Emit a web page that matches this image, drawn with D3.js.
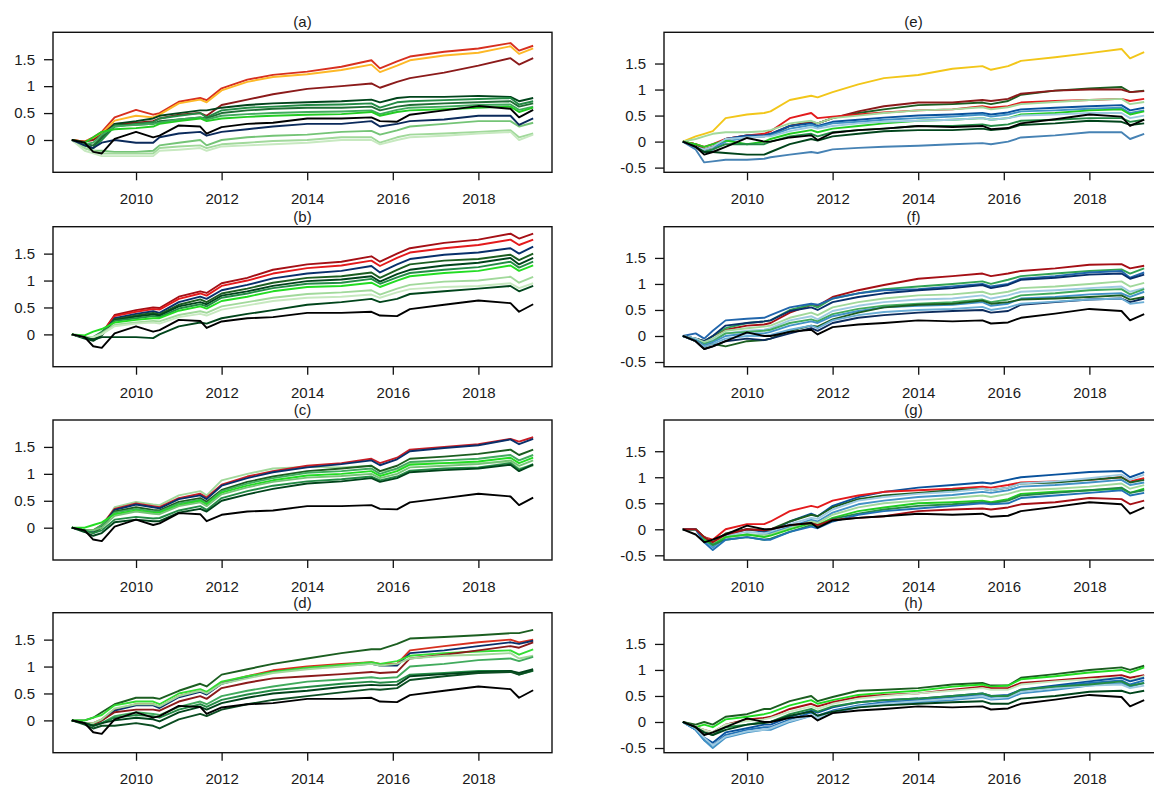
<!DOCTYPE html>
<html>
<head>
<meta charset="utf-8">
<script src="https://cdn.jsdelivr.net/npm/d3@7/dist/d3.min.js"></script>
<style>
  body { margin: 0; background: #fff; }
  svg { display: block; font-family: "Liberation Sans", Arial, sans-serif; }
</style>
</head>
<body>
<div id="vis-container"></div>
<script>
// time grid (decimal years) shared by every series
const years = [2008.5, 2008.8, 2009.0, 2009.2, 2009.5, 2010.0, 2010.4, 2010.55, 2011.0, 2011.5, 2011.65, 2012.0, 2012.6,
  2013.2, 2014.0, 2014.8, 2015.5, 2015.7, 2016.1, 2016.4, 2017.2, 2018.0, 2018.75, 2018.95, 2019.28];

const xTicks = [2010, 2012, 2014, 2016, 2018];
const yTicksLeft = [0, 0.5, 1, 1.5];
const yTicksRight = [-0.5, 0, 0.5, 1, 1.5];

// benchmark (black) lines
const benchLeft = [0, -0.05, -0.22, -0.25, 0.02, 0.15, 0.05, 0.08, 0.27, 0.25, 0.12, 0.24, 0.3, 0.32, 0.4, 0.4, 0.42, 0.35, 0.34, 0.47, 0.55, 0.63, 0.58, 0.42, 0.56];
const benchRight = [0, -0.1, -0.25, -0.2, -0.1, 0.07, 0.0, 0.0, 0.08, 0.12, 0.03, 0.17, 0.22, 0.25, 0.3, 0.28, 0.3, 0.24, 0.26, 0.35, 0.43, 0.52, 0.48, 0.3, 0.42];

// (a)
const panelA = [
  [0, -0.03, 0.05, 0.15, 0.42, 0.56, 0.47, 0.5, 0.71, 0.78, 0.74, 0.96, 1.12, 1.21, 1.27, 1.36, 1.48, 1.33, 1.46, 1.55, 1.64, 1.7, 1.8, 1.66, 1.75],
  [0, -0.03, 0.03, 0.12, 0.36, 0.45, 0.42, 0.47, 0.68, 0.75, 0.7, 0.92, 1.08, 1.17, 1.22, 1.3, 1.4, 1.26, 1.38, 1.48, 1.57, 1.62, 1.74, 1.6, 1.7],
  [0, -0.03, 0.0, 0.1, 0.3, 0.32, 0.35, 0.4, 0.47, 0.5, 0.45, 0.65, 0.75, 0.85, 0.95, 1.0, 1.05, 0.97, 1.08, 1.15, 1.25, 1.38, 1.52, 1.4, 1.52],
  [0, -0.1, -0.15, 0.05, 0.3, 0.35, 0.4, 0.45, 0.5, 0.55, 0.55, 0.6, 0.65, 0.68, 0.7, 0.72, 0.75, 0.7, 0.78, 0.8, 0.8, 0.82, 0.8, 0.72, 0.78],
  [0, -0.1, -0.15, 0.0, 0.25, 0.3, 0.33, 0.4, 0.45, 0.5, 0.42, 0.55, 0.6, 0.62, 0.65, 0.66, 0.68, 0.6, 0.7, 0.72, 0.74, 0.76, 0.78, 0.66, 0.72],
  [0, -0.08, -0.1, 0.05, 0.28, 0.28, 0.3, 0.35, 0.38, 0.42, 0.4, 0.5, 0.55, 0.58, 0.6, 0.6, 0.62, 0.55, 0.62, 0.65, 0.68, 0.7, 0.72, 0.62, 0.68],
  [0, -0.08, -0.05, 0.1, 0.25, 0.28, 0.3, 0.32, 0.38, 0.42, 0.38, 0.45, 0.48, 0.5, 0.52, 0.53, 0.55, 0.48, 0.56, 0.6, 0.62, 0.65, 0.66, 0.56, 0.62],
  [0, -0.05, 0.05, 0.15, 0.2, 0.22, 0.25, 0.3, 0.35, 0.4, 0.35, 0.4, 0.43, 0.45, 0.47, 0.48, 0.52, 0.45, 0.52, 0.55, 0.57, 0.6, 0.62, 0.52, 0.6],
  [0, -0.15, -0.2, -0.2, -0.22, -0.22, -0.2, -0.1, -0.05, 0.0, -0.1, 0.0, 0.05, 0.08, 0.1, 0.15, 0.17, 0.1, 0.18, 0.25, 0.3, 0.35, 0.35, 0.25, 0.32],
  [0, -0.15, -0.2, -0.25, -0.25, -0.25, -0.25, -0.15, -0.12, -0.1, -0.15, -0.08, -0.05, -0.02, 0.0, 0.05, 0.05, -0.05, 0.05, 0.1, 0.12, 0.15, 0.18, 0.05, 0.12],
  [0, -0.2, -0.25, -0.3, -0.3, -0.3, -0.3, -0.2, -0.18, -0.15, -0.2, -0.12, -0.1, -0.08, -0.05, 0.0, 0.0, -0.08, 0.0, 0.05, 0.08, 0.12, 0.15, 0.0, 0.1],
  [0, -0.1, -0.15, -0.05, 0.0, -0.05, -0.05, 0.05, 0.12, 0.15, 0.08, 0.15, 0.2, 0.25, 0.3, 0.3, 0.35, 0.25, 0.3, 0.35, 0.38, 0.45, 0.45, 0.28, 0.4]
];
const colorsA = ["#d7301f", "#fdb827", "#8b1a1a", "#00441b", "#238b45", "#1f6e35", "#41ab5d", "#22cc22", "#74c476", "#a1d99b", "#c7e9c0", "#0b2a5b"];

// (b)
const panelB = [
  [0, -0.05, -0.08, 0.02, 0.36, 0.45, 0.5, 0.49, 0.7, 0.8, 0.77, 0.95, 1.05, 1.2, 1.3, 1.35, 1.45, 1.35, 1.5, 1.6, 1.7, 1.76, 1.87, 1.78, 1.87],
  [0, -0.05, -0.08, 0.02, 0.34, 0.42, 0.47, 0.46, 0.66, 0.76, 0.72, 0.9, 1.0, 1.13, 1.23, 1.28, 1.37, 1.27, 1.42, 1.52, 1.6, 1.66, 1.76, 1.66, 1.76],
  [0, -0.06, -0.1, 0.0, 0.3, 0.38, 0.43, 0.4, 0.6, 0.7, 0.66, 0.82, 0.92, 1.04, 1.13, 1.18, 1.27, 1.15, 1.3, 1.4, 1.48, 1.52, 1.6, 1.5, 1.63],
  [0, -0.06, -0.1, 0.0, 0.28, 0.35, 0.4, 0.37, 0.55, 0.65, 0.6, 0.76, 0.85, 0.96, 1.05, 1.08, 1.15, 1.05, 1.2, 1.3, 1.37, 1.4, 1.48, 1.38, 1.5],
  [0, -0.08, -0.12, -0.02, 0.26, 0.33, 0.37, 0.35, 0.52, 0.6, 0.56, 0.72, 0.8, 0.9, 0.99, 1.02, 1.08, 0.98, 1.12, 1.2, 1.28, 1.33, 1.42, 1.3, 1.42],
  [0, -0.05, -0.05, 0.05, 0.25, 0.3, 0.34, 0.32, 0.48, 0.56, 0.52, 0.68, 0.76, 0.86, 0.94, 0.96, 1.03, 0.94, 1.06, 1.14, 1.2, 1.25, 1.35, 1.24, 1.35],
  [0, -0.02, 0.05, 0.1, 0.22, 0.27, 0.3, 0.3, 0.44, 0.52, 0.48, 0.62, 0.7, 0.8, 0.88, 0.9, 0.96, 0.88, 1.0, 1.08, 1.14, 1.18, 1.28, 1.18, 1.28],
  [0, -0.05, -0.05, 0.02, 0.18, 0.22, 0.25, 0.24, 0.36, 0.43, 0.4, 0.52, 0.6, 0.68, 0.75, 0.78, 0.82, 0.74, 0.85, 0.92, 0.98, 1.0, 1.07, 0.96, 1.07],
  [0, -0.05, -0.05, 0.0, 0.15, 0.2, 0.22, 0.2, 0.32, 0.38, 0.35, 0.46, 0.54, 0.62, 0.68, 0.7, 0.74, 0.68, 0.78, 0.84, 0.88, 0.9, 0.95, 0.86, 0.95],
  [0, -0.05, -0.1, -0.05, -0.05, -0.05, -0.07, 0.0, 0.15, 0.22, 0.2, 0.3, 0.38, 0.45, 0.55, 0.6, 0.66, 0.6, 0.66, 0.75, 0.8, 0.85, 0.9, 0.8, 0.9]
];
const colorsB = ["#a50f15", "#e31a1c", "#08306b", "#1b5e20", "#00441b", "#238b45", "#22dd22", "#a1d99b", "#c7e9c0", "#00441b"];

// (c)
const panelC = [
  [0, -0.05, -0.05, 0.0, 0.38, 0.48, 0.43, 0.42, 0.6, 0.68, 0.6, 0.88, 1.0, 1.1, 1.13, 1.12, 1.15, 1.05, 1.08, 1.2, 1.2, 1.2, 1.22, 1.1, 1.15],
  [0, -0.05, -0.05, 0.05, 0.35, 0.45, 0.4, 0.38, 0.55, 0.63, 0.56, 0.8, 0.95, 1.05, 1.15, 1.2, 1.28, 1.2, 1.3, 1.45, 1.5, 1.55, 1.65, 1.6, 1.68],
  [0, -0.05, -0.08, 0.02, 0.33, 0.43, 0.38, 0.36, 0.53, 0.6, 0.53, 0.78, 0.92, 1.03, 1.12, 1.18, 1.25, 1.16, 1.27, 1.42, 1.48, 1.53, 1.64, 1.55, 1.65],
  [0, -0.05, -0.1, 0.0, 0.3, 0.38, 0.33, 0.32, 0.48, 0.55, 0.48, 0.7, 0.85, 0.95, 1.05, 1.1, 1.15, 1.05, 1.15, 1.28, 1.32, 1.37, 1.45, 1.35, 1.45],
  [0, -0.05, -0.05, 0.05, 0.28, 0.35, 0.3, 0.3, 0.45, 0.52, 0.45, 0.68, 0.82, 0.92, 1.02, 1.05, 1.1, 1.0, 1.1, 1.22, 1.25, 1.28, 1.35, 1.25, 1.35],
  [0, 0.0, 0.05, 0.1, 0.25, 0.32, 0.28, 0.28, 0.42, 0.5, 0.43, 0.65, 0.78, 0.88, 0.97, 1.0, 1.05, 0.96, 1.05, 1.17, 1.2, 1.23, 1.3, 1.2, 1.3],
  [0, -0.05, -0.05, 0.0, 0.22, 0.3, 0.26, 0.25, 0.4, 0.47, 0.4, 0.62, 0.75, 0.85, 0.93, 0.96, 1.0, 0.92, 1.0, 1.12, 1.15, 1.18, 1.25, 1.15, 1.25],
  [0, -0.05, -0.1, -0.05, 0.15, 0.2, 0.17, 0.18, 0.32, 0.4, 0.33, 0.55, 0.68, 0.78, 0.86, 0.9, 0.95, 0.88, 0.95, 1.06, 1.1, 1.12, 1.2, 1.08, 1.18],
  [0, -0.08, -0.15, -0.1, 0.1, 0.15, 0.12, 0.12, 0.28, 0.35, 0.3, 0.5, 0.62, 0.72, 0.82, 0.86, 0.92, 0.85, 0.92, 1.03, 1.07, 1.1, 1.17, 1.05, 1.17]
];
const colorsC = ["#a1d99b", "#c81d25", "#08306b", "#1b5e20", "#41ab5d", "#22dd22", "#74c476", "#238b45", "#00441b"];

// (d)
const panelD = [
  [0, 0.0, 0.05, 0.15, 0.3, 0.42, 0.42, 0.4, 0.55, 0.68, 0.63, 0.85, 0.95, 1.05, 1.15, 1.25, 1.32, 1.32, 1.42, 1.52, 1.55, 1.58, 1.62, 1.62, 1.68],
  [0, -0.05, -0.05, 0.02, 0.2, 0.3, 0.3, 0.25, 0.45, 0.55, 0.5, 0.7, 0.82, 0.93, 1.0, 1.05, 1.08, 1.05, 1.05, 1.3, 1.38, 1.45, 1.5, 1.45, 1.5],
  [0, -0.05, -0.08, 0.0, 0.18, 0.28, 0.28, 0.23, 0.43, 0.53, 0.48, 0.68, 0.8, 0.9, 0.97, 1.02, 1.05, 1.02, 1.02, 1.25, 1.3, 1.38, 1.45, 1.42, 1.48],
  [0, 0.0, 0.05, 0.1, 0.28, 0.35, 0.35, 0.3, 0.5, 0.58, 0.53, 0.72, 0.82, 0.9, 0.98, 1.03, 1.08, 1.05, 1.1, 1.2, 1.25, 1.28, 1.3, 1.22, 1.32],
  [0, -0.05, -0.08, 0.0, 0.15, 0.2, 0.2, 0.18, 0.35, 0.45, 0.4, 0.6, 0.7, 0.78, 0.82, 0.86, 0.9, 0.88, 0.9, 1.15, 1.22, 1.3, 1.38, 1.35, 1.45],
  [0, -0.05, -0.05, 0.02, 0.22, 0.3, 0.3, 0.26, 0.45, 0.55, 0.5, 0.68, 0.78, 0.88, 0.95, 1.0, 1.05, 1.02, 1.05, 1.15, 1.2, 1.22, 1.25, 1.15, 1.2],
  [0, -0.05, -0.1, -0.05, 0.08, 0.15, 0.12, 0.1, 0.25, 0.35, 0.3, 0.45, 0.55, 0.63, 0.72, 0.76, 0.8, 0.78, 0.8, 1.0, 1.05, 1.12, 1.15, 1.1, 1.18],
  [0, -0.05, -0.1, -0.05, 0.05, 0.1, 0.08, 0.05, 0.2, 0.3, 0.25, 0.38, 0.48, 0.56, 0.62, 0.68, 0.72, 0.7, 0.72, 0.85, 0.88, 0.92, 0.92, 0.85, 0.92],
  [0, -0.05, -0.1, -0.05, 0.0, 0.05, 0.02, -0.02, 0.15, 0.25, 0.2, 0.32, 0.42, 0.5, 0.55, 0.62, 0.66, 0.65, 0.66, 0.82, 0.86, 0.9, 0.92, 0.88, 0.95],
  [0, -0.08, -0.15, -0.1, -0.1, -0.05, -0.1, -0.15, 0.02, 0.12, 0.08, 0.2, 0.3, 0.38, 0.45, 0.52, 0.58, 0.57, 0.6, 0.75, 0.82, 0.88, 0.9, 0.85, 0.93]
];
const colorsD = ["#1b5e20", "#d7301f", "#08306b", "#33dd33", "#8b1a1a", "#a1d99b", "#41ab5d", "#238b45", "#00441b", "#0b4d22"];

// (e)
const panelE = [
  [0, 0.1, 0.15, 0.2, 0.45, 0.52, 0.55, 0.58, 0.8, 0.88, 0.85, 0.95, 1.1, 1.22, 1.28, 1.4, 1.45, 1.38, 1.45, 1.55, 1.62, 1.7, 1.78, 1.6, 1.72],
  [0, -0.05, -0.15, -0.1, 0.05, 0.1, 0.1, 0.12, 0.3, 0.38, 0.35, 0.45, 0.55, 0.62, 0.7, 0.72, 0.75, 0.72, 0.78, 0.9, 0.98, 1.02, 1.05, 0.95, 0.98],
  [0, -0.05, -0.15, -0.1, 0.05, 0.12, 0.12, 0.15, 0.3, 0.38, 0.35, 0.45, 0.58, 0.68, 0.75, 0.75, 0.8, 0.78, 0.82, 0.92, 0.98, 1.0, 1.0, 0.95, 0.97],
  [0, -0.05, -0.1, -0.05, 0.05, 0.12, 0.15, 0.2, 0.45, 0.55, 0.45, 0.48, 0.52, 0.56, 0.6, 0.62, 0.68, 0.65, 0.68, 0.75, 0.78, 0.8, 0.82, 0.78, 0.82],
  [0, 0.05, 0.1, 0.15, 0.18, 0.18, 0.2, 0.22, 0.35, 0.4, 0.35, 0.45, 0.5, 0.55, 0.6, 0.62, 0.66, 0.62, 0.66, 0.72, 0.76, 0.8, 0.82, 0.72, 0.76],
  [0, -0.1, -0.2, -0.15, 0.05, 0.12, 0.12, 0.15, 0.3, 0.35, 0.3, 0.38, 0.42, 0.46, 0.5, 0.52, 0.55, 0.52, 0.56, 0.62, 0.65, 0.68, 0.7, 0.6, 0.65],
  [0, -0.1, -0.2, -0.15, 0.0, 0.08, 0.1, 0.12, 0.25, 0.32, 0.28, 0.35, 0.38, 0.42, 0.45, 0.48, 0.52, 0.48, 0.52, 0.58, 0.6, 0.63, 0.65, 0.55, 0.6],
  [0, -0.05, -0.1, -0.05, 0.02, -0.05, 0.0, 0.05, 0.15, 0.22, 0.18, 0.25, 0.3, 0.35, 0.4, 0.42, 0.45, 0.42, 0.45, 0.52, 0.55, 0.6, 0.62, 0.52, 0.58],
  [0, -0.1, -0.15, -0.1, 0.05, 0.08, 0.1, 0.1, 0.2, 0.28, 0.25, 0.3, 0.35, 0.38, 0.4, 0.42, 0.45, 0.42, 0.45, 0.5, 0.52, 0.55, 0.55, 0.45, 0.5],
  [0, -0.1, -0.2, -0.15, -0.05, -0.05, -0.05, 0.0, 0.1, 0.15, 0.1, 0.18, 0.22, 0.25, 0.3, 0.3, 0.33, 0.3, 0.33, 0.4, 0.42, 0.45, 0.45, 0.38, 0.42],
  [0, -0.1, -0.2, -0.2, -0.22, -0.25, -0.25, -0.2, -0.05, 0.05, 0.02, 0.1, 0.15, 0.2, 0.22, 0.22, 0.25, 0.22, 0.25, 0.32, 0.35, 0.4, 0.38, 0.32, 0.35],
  [0, -0.15, -0.4, -0.38, -0.35, -0.35, -0.33, -0.3, -0.25, -0.2, -0.22, -0.15, -0.12, -0.1, -0.08, -0.05, -0.03, -0.05, 0.0, 0.08, 0.12, 0.18, 0.18, 0.05, 0.15]
];
const colorsE = ["#f2c619", "#1b5e20", "#8b1a1a", "#e31a1c", "#a1d99b", "#08519c", "#4292c6", "#22cc22", "#9ecae1", "#238b45", "#00441b", "#4682b4"];

// (f)
const panelF = [
  [0, -0.05, -0.1, 0.0, 0.12, 0.2, 0.22, 0.25, 0.45, 0.6, 0.58, 0.75, 0.88, 0.98, 1.1, 1.15, 1.2, 1.15, 1.2, 1.25, 1.3, 1.37, 1.38, 1.3, 1.35],
  [0, -0.05, -0.1, 0.0, 0.15, 0.25, 0.28, 0.3, 0.5, 0.6, 0.55, 0.72, 0.82, 0.9, 0.95, 1.0, 1.05, 1.0, 1.08, 1.15, 1.2, 1.25, 1.28, 1.2, 1.3],
  [0, 0.05, -0.05, 0.1, 0.3, 0.33, 0.35, 0.4, 0.55, 0.62, 0.6, 0.72, 0.82, 0.88, 0.9, 0.95, 1.0, 0.95, 1.0, 1.1, 1.15, 1.22, 1.25, 1.12, 1.22],
  [0, -0.05, -0.1, 0.0, 0.2, 0.25, 0.28, 0.3, 0.48, 0.55, 0.5, 0.65, 0.75, 0.82, 0.88, 0.92, 0.98, 0.92, 0.98, 1.08, 1.12, 1.18, 1.2, 1.1, 1.18],
  [0, -0.05, -0.12, -0.05, 0.1, 0.15, 0.18, 0.2, 0.35, 0.45, 0.4, 0.55, 0.65, 0.72, 0.78, 0.8, 0.85, 0.8, 0.85, 0.92, 0.95, 1.0, 1.05, 0.95, 1.02],
  [0, -0.05, -0.15, -0.08, 0.05, 0.1, 0.12, 0.15, 0.3, 0.38, 0.32, 0.48, 0.58, 0.65, 0.7, 0.72, 0.78, 0.72, 0.78, 0.85, 0.88, 0.92, 0.95, 0.85, 0.92],
  [0, -0.08, -0.15, -0.1, 0.05, 0.08, 0.1, 0.12, 0.25, 0.32, 0.28, 0.42, 0.52, 0.58, 0.62, 0.65, 0.7, 0.65, 0.7, 0.78, 0.82, 0.88, 0.9, 0.8, 0.9],
  [0, -0.08, -0.18, -0.12, 0.0, 0.05, 0.05, 0.08, 0.2, 0.28, 0.25, 0.38, 0.48, 0.55, 0.58, 0.6, 0.65, 0.58, 0.62, 0.72, 0.75, 0.8, 0.82, 0.75, 0.85],
  [0, -0.1, -0.2, -0.15, -0.2, -0.1, -0.08, -0.05, 0.1, 0.2, 0.18, 0.32, 0.45, 0.55, 0.6, 0.62, 0.68, 0.62, 0.65, 0.7, 0.72, 0.75, 0.78, 0.7, 0.75],
  [0, -0.1, -0.25, -0.2, -0.1, -0.05, -0.08, -0.05, 0.05, 0.15, 0.1, 0.25, 0.35, 0.4, 0.45, 0.48, 0.5, 0.45, 0.48, 0.6, 0.65, 0.7, 0.72, 0.65, 0.72],
  [0, -0.1, -0.2, -0.15, -0.05, 0.0, 0.0, 0.02, 0.12, 0.2, 0.15, 0.3, 0.4, 0.46, 0.5, 0.52, 0.56, 0.5, 0.55, 0.62, 0.66, 0.7, 0.72, 0.62, 0.65]
];
const colorsF = ["#a50f15", "#31a354", "#2166ac", "#08306b", "#a1d99b", "#9ecae1", "#41ab5d", "#4292c6", "#1b5e20", "#0b2a5b", "#6baed6"];

// (g)
const panelG = [
  [0, 0.0, -0.2, -0.3, -0.1, 0.0, -0.05, -0.05, 0.15, 0.3, 0.25, 0.45, 0.62, 0.72, 0.8, 0.85, 0.9, 0.88, 0.95, 1.0, 1.05, 1.1, 1.12, 1.0, 1.1],
  [0, 0.0, -0.15, -0.2, 0.0, 0.1, 0.1, 0.15, 0.35, 0.45, 0.42, 0.55, 0.65, 0.72, 0.75, 0.78, 0.82, 0.8, 0.85, 0.9, 0.92, 0.95, 1.0, 0.92, 0.98],
  [0, 0.0, -0.15, -0.25, -0.08, 0.0, -0.02, 0.0, 0.15, 0.28, 0.25, 0.42, 0.58, 0.65, 0.7, 0.75, 0.78, 0.75, 0.8, 0.88, 0.9, 0.95, 1.0, 0.9, 0.95],
  [0, 0.0, -0.2, -0.3, -0.12, -0.05, -0.08, -0.05, 0.1, 0.22, 0.2, 0.38, 0.55, 0.62, 0.68, 0.72, 0.78, 0.75, 0.8, 0.88, 0.92, 0.98, 1.05, 0.95, 1.05],
  [0, 0.0, -0.2, -0.35, -0.15, -0.1, -0.12, -0.08, 0.05, 0.18, 0.15, 0.32, 0.48, 0.55, 0.62, 0.66, 0.72, 0.7, 0.75, 0.82, 0.85, 0.9, 0.95, 0.85, 0.9],
  [0, 0.0, -0.15, -0.25, -0.15, -0.1, -0.12, -0.1, 0.02, 0.15, 0.12, 0.28, 0.42, 0.5, 0.55, 0.6, 0.65, 0.62, 0.68, 0.75, 0.78, 0.82, 0.88, 0.78, 0.85],
  [0, 0.0, -0.2, -0.3, -0.15, -0.1, -0.15, -0.12, 0.0, 0.12, 0.08, 0.22, 0.35, 0.42, 0.5, 0.52, 0.55, 0.52, 0.58, 0.68, 0.72, 0.75, 0.78, 0.7, 0.78],
  [0, 0.0, -0.15, -0.3, -0.2, -0.15, -0.2, -0.18, -0.05, 0.08, 0.05, 0.2, 0.3, 0.38, 0.45, 0.48, 0.52, 0.5, 0.55, 0.65, 0.7, 0.75, 0.8, 0.7, 0.75],
  [0, 0.0, -0.25, -0.4, -0.2, -0.15, -0.2, -0.2, -0.05, 0.05, 0.02, 0.15, 0.28, 0.35, 0.4, 0.45, 0.5, 0.48, 0.5, 0.6, 0.65, 0.7, 0.75, 0.65, 0.7],
  [0, 0.0, -0.15, -0.25, -0.1, 0.0, -0.02, 0.0, 0.08, 0.12, 0.08, 0.18, 0.22, 0.25, 0.35, 0.38, 0.4, 0.38, 0.42, 0.48, 0.52, 0.6, 0.58, 0.48, 0.55]
];
const colorsG = ["#08519c", "#e31a1c", "#1b5e20", "#9ecae1", "#4292c6", "#a1d99b", "#22cc22", "#238b45", "#2171b5", "#a50f15"];

// (h)
const panelH = [
  [0, -0.05, 0.0, -0.05, 0.1, 0.15, 0.25, 0.25, 0.4, 0.5, 0.4, 0.48, 0.6, 0.62, 0.65, 0.72, 0.75, 0.7, 0.7, 0.85, 0.92, 1.0, 1.05, 1.0, 1.08],
  [0, -0.1, -0.05, -0.1, 0.05, 0.1, 0.15, 0.18, 0.32, 0.42, 0.35, 0.42, 0.52, 0.56, 0.6, 0.68, 0.72, 0.68, 0.7, 0.82, 0.88, 0.95, 1.0, 0.95, 1.05],
  [0, -0.1, -0.15, -0.2, -0.05, 0.05, 0.08, 0.1, 0.25, 0.35, 0.3, 0.38, 0.48, 0.52, 0.55, 0.62, 0.68, 0.65, 0.65, 0.75, 0.8, 0.85, 0.9, 0.85, 0.9],
  [0, -0.1, -0.15, -0.2, -0.05, 0.02, 0.05, 0.08, 0.2, 0.3, 0.25, 0.35, 0.45, 0.5, 0.55, 0.6, 0.65, 0.62, 0.62, 0.72, 0.78, 0.82, 0.85, 0.8, 0.88],
  [0, -0.15, -0.3, -0.4, -0.2, -0.12, -0.05, -0.05, 0.1, 0.22, 0.18, 0.28, 0.38, 0.42, 0.45, 0.5, 0.55, 0.5, 0.52, 0.62, 0.7, 0.78, 0.85, 0.78, 0.85],
  [0, -0.15, -0.35, -0.45, -0.25, -0.15, -0.1, -0.1, 0.05, 0.18, 0.12, 0.22, 0.32, 0.38, 0.42, 0.48, 0.52, 0.48, 0.5, 0.6, 0.68, 0.75, 0.8, 0.72, 0.8],
  [0, -0.15, -0.35, -0.5, -0.3, -0.2, -0.15, -0.15, 0.0, 0.12, 0.08, 0.18, 0.28, 0.33, 0.38, 0.42, 0.48, 0.43, 0.45, 0.55, 0.62, 0.7, 0.75, 0.68, 0.75],
  [0, -0.12, -0.3, -0.45, -0.28, -0.18, -0.15, -0.12, 0.02, 0.12, 0.08, 0.2, 0.3, 0.35, 0.4, 0.45, 0.5, 0.45, 0.48, 0.58, 0.65, 0.7, 0.72, 0.65, 0.7],
  [0, -0.1, -0.2, -0.25, -0.1, -0.05, 0.0, 0.0, 0.15, 0.25, 0.2, 0.3, 0.38, 0.42, 0.45, 0.5, 0.55, 0.5, 0.5, 0.62, 0.68, 0.72, 0.78, 0.7, 0.75],
  [0, -0.1, -0.2, -0.25, -0.15, -0.05, -0.02, 0.0, 0.12, 0.2, 0.12, 0.2, 0.28, 0.32, 0.35, 0.38, 0.4, 0.35, 0.35, 0.45, 0.5, 0.58, 0.6, 0.55, 0.6]
];
const colorsH = ["#1b5e20", "#22dd22", "#a50f15", "#c7e9c0", "#08519c", "#2171b5", "#4292c6", "#9ecae1", "#238b45", "#00441b"];

// ––––––––––––––––––––––––––––––––––––––––––––––––––––––––––––––––

const width = 1154, height = 787;
const boxW = 499, boxH = 140;
const colX = [53, 664];               // left edge of box, per column
const rowY = [32.3, 226.7, 420, 612.7]; // top edge of box, per row
const yDomain = [[-0.6, 2.0], [-0.59, 2.1]];
const xDomain = [2008.06, 2019.72];

const panels = [
  { label: "(a)", series: panelA, colors: colorsA, bench: benchLeft, col: 0, row: 0 },
  { label: "(b)", series: panelB, colors: colorsB, bench: benchLeft, col: 0, row: 1 },
  { label: "(c)", series: panelC, colors: colorsC, bench: benchLeft, col: 0, row: 2 },
  { label: "(d)", series: panelD, colors: colorsD, bench: benchLeft, col: 0, row: 3 },
  { label: "(e)", series: panelE, colors: colorsE, bench: benchRight, col: 1, row: 0 },
  { label: "(f)", series: panelF, colors: colorsF, bench: benchRight, col: 1, row: 1 },
  { label: "(g)", series: panelG, colors: colorsG, bench: benchRight, col: 1, row: 2 },
  { label: "(h)", series: panelH, colors: colorsH, bench: benchRight, col: 1, row: 3 }
];

const svg = d3.select("#vis-container").append("svg").attr("width", width).attr("height", height);
svg.append("rect").attr("width", width).attr("height", height).attr("fill", "#fff");

panels.forEach((p) => {
  const x0 = colX[p.col], y0 = rowY[p.row];
  const x = d3.scaleLinear().domain(xDomain).range([x0, x0 + boxW]);
  const y = d3.scaleLinear().domain(yDomain[p.col]).range([y0 + boxH, y0]);
  const g = svg.append("g");

  const line = d3.line().x((d, i) => x(years[i])).y((d) => y(d));

  // series, black benchmark on top
  const all = p.series.map((s, i) => ({ values: s, color: p.colors[i] }));
  all.push({ values: p.bench, color: "#000" });
  g.selectAll("path.series")
    .data(all)
    .enter()
    .append("path")
    .attr("class", "series")
    .attr("d", (d) => line(d.values))
    .attr("fill", "none")
    .attr("stroke", (d) => d.color)
    .attr("stroke-width", 1.9)
    .attr("stroke-linejoin", "round");

  // box
  g.append("rect")
    .attr("x", x0).attr("y", y0).attr("width", boxW).attr("height", boxH)
    .attr("fill", "none").attr("stroke", "#111").attr("stroke-width", 1.4);

  // axes
  const yAxis = g.append("g").attr("transform", `translate(${x0},0)`)
    .call(d3.axisLeft(y).tickValues(p.col === 0 ? yTicksLeft : yTicksRight).tickFormat((d) => String(d)).tickSize(9).tickPadding(9));
  const xAxis = g.append("g").attr("transform", `translate(0,${y0 + boxH})`)
    .call(d3.axisBottom(x).tickValues(xTicks).tickFormat((d) => String(d)).tickSize(8).tickPadding(13));
  [yAxis, xAxis].forEach((a) => {
    a.select(".domain").remove();
    a.selectAll("line").attr("stroke", "#111").attr("stroke-width", 1.3);
    a.selectAll("text").attr("fill", "#1a1a1a").style("font-size", "15px").style("font-family", "'Liberation Sans', Arial, sans-serif");
  });

  // title
  g.append("text")
    .attr("x", x0 + boxW / 2).attr("y", y0 - 5)
    .attr("text-anchor", "middle")
    .attr("fill", "#1a1a1a")
    .style("font-size", "15px")
    .text(p.label);
});
</script>
</body>
</html>
